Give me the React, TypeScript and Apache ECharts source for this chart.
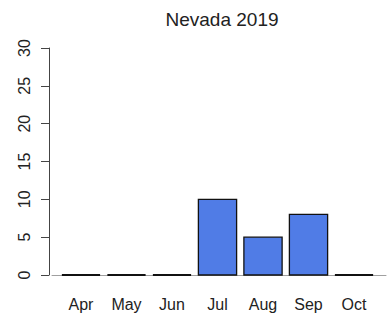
import React, { useEffect, useRef } from "react";
import * as echarts from "echarts";

const title = "Nevada 2019";
const months = ["Apr", "May", "Jun", "Jul", "Aug", "Sep", "Oct"];
const counts = [0, 0, 0, 10, 5, 8, 0];
const yTicks = [0, 5, 10, 15, 20, 25, 30];

export default function App() {
  const ref = useRef<HTMLDivElement>(null);
  useEffect(() => {
    if (!ref.current) return;
    const chart = echarts.init(ref.current, null, { renderer: "svg" });
    const font = "Liberation Sans, Arial, Helvetica, sans-serif";
    chart.setOption({
      animation: false,
      backgroundColor: "#ffffff",
      title: {
        text: title,
        left: 217,
        top: 5,
        textAlign: "center",
        textStyle: { fontSize: 19, fontWeight: "normal", color: "#222", fontFamily: font },
      },
      grid: { left: 52, right: 5, top: 48, bottom: 43, containLabel: false },
      xAxis: {
        type: "value",
        min: -0.637,
        max: 6.703,
        splitLine: { show: false },
        axisLine: { show: true, onZero: false, lineStyle: { color: "#a0a0a0", width: 1 } },
        axisTick: { show: false },
        axisLabel: {
          customValues: months.map((_, i) => i),
          formatter: (v: number) => months[Math.round(v)] ?? "",
          fontSize: 16,
          color: "#222",
          fontFamily: font,
          margin: 21,
        },
      },
      yAxis: {
        type: "value",
        min: 0,
        max: 30,
        interval: 5,
        offset: 3,
        splitLine: { show: false },
        axisLine: { show: true, onZero: false, lineStyle: { color: "#444", width: 1 } },
        axisTick: {
          show: true,
          length: 8,
          lineStyle: { color: "#444", width: 1 },
          customValues: yTicks,
        },
        axisLabel: {
          customValues: yTicks,
          rotate: 90,
          fontSize: 16,
          color: "#222",
          fontFamily: font,
          margin: 17,
        },
      },
      series: [
        {
          type: "custom",
          data: counts.map((v, i) => [i, v]),
          encode: { x: 0, y: 1 },
          clip: false,
          renderItem: (params: any, api: any) => {
            const i = api.value(0);
            const v = api.value(1);
            const base = api.coord([i, 0]);
            const top = api.coord([i, v]);
            const w = api.size([0.84, 0])[0];
            if (v === 0) {
              return {
                type: "line",
                shape: { x1: base[0] - w / 2, y1: base[1], x2: base[0] + w / 2, y2: base[1] },
                style: { stroke: "#111", lineWidth: 2 },
              };
            }
            return {
              type: "rect",
              shape: { x: base[0] - w / 2, y: top[1], width: w, height: base[1] - top[1] },
              style: { fill: "#507ce6", stroke: "#111", lineWidth: 1.3 },
            };
          },
        },
      ],
    });
    return () => chart.dispose();
  }, []);
  return (
    <div
      ref={ref}
      style={{ position: "absolute", left: 0, top: 0, width: 391, height: 318 }}
    />
  );
}
